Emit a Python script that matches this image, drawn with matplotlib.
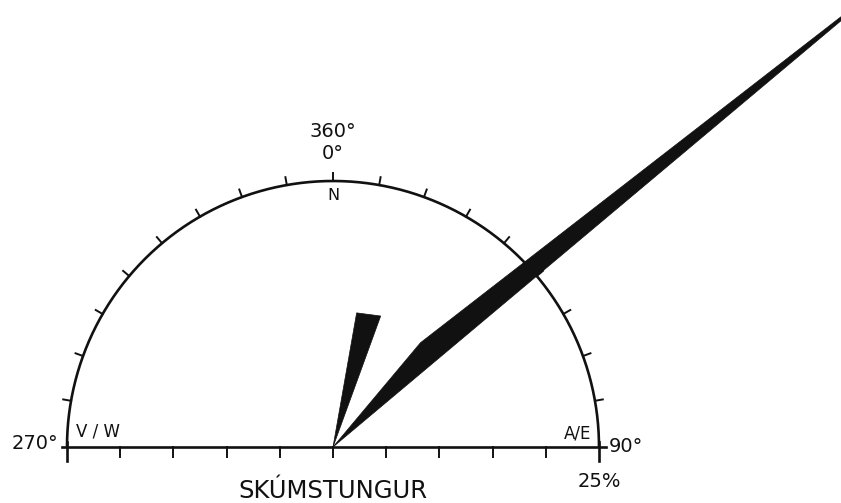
import numpy as np
import matplotlib
matplotlib.use("Agg")
import matplotlib.pyplot as plt
from matplotlib.patches import Polygon

# scale of the rose (outer circle = 25 %)
r_max = 25
arc_ticks_deg = np.arange(280, 450, 10) % 360   # every 10 degrees on the arc
scale_ticks = [-25, -20, -15, -10, -5, 0, 5, 10, 15, 20, 25]

# petals: compass angle (deg, clockwise from N) and radius (%)
petal1_ang = [10, 20]
petal1_r = [12.8, 13.1]
petal2_ang = [40, 50]        # kink vertex, far tip
petal2_r = [12.8, 70]

title = "SKÚMSTUNGUR"


def xy(ang, r):
    a = np.deg2rad(ang)
    return r * np.sin(a), r * np.cos(a)


fig = plt.figure(figsize=(8.41, 5.03), dpi=100)
ax = fig.add_axes([0, 0, 1, 1])
px = 10.64  # pixels per percent
ax.set_xlim(-333 / px, (841 - 333) / px)
ax.set_ylim(-56 / px, (503 - 56) / px)
ax.set_aspect("equal")
ax.axis("off")

lw = 1.9
k = "#111111"

# outer half circle
t = np.linspace(-90, 90, 400)
ax.plot(*xy(t, r_max), color=k, lw=lw, solid_capstyle="butt")

# ticks on the arc, pointing outward
for a in arc_ticks_deg:
    x0, y0 = xy(a, r_max)
    x1, y1 = xy(a, r_max + 0.75)
    ax.plot([x0, x1], [y0, y1], color=k, lw=1.4)

# base line with scale ticks
ax.plot([-25.5, 25.7], [0, 0], color=k, lw=lw)
for s in scale_ticks:
    if abs(s) == 25:
        ax.plot([s, s], [0.5, -1.3], color=k, lw=lw)
    else:
        ax.plot([s, s], [0, -0.95], color=k, lw=1.4)

# petals
x, y = xy(np.array(petal1_ang), np.array(petal1_r))
ax.add_patch(Polygon([(0, 0), (x[0], y[0]), (x[1], y[1])], closed=True,
                     facecolor=k, edgecolor=k, lw=0.5))
x, y = xy(np.array(petal2_ang), np.array(petal2_r))
ax.add_patch(Polygon([(0, 0), (x[0], y[0]), (x[1], y[1])], closed=True,
                     facecolor=k, edgecolor=k, lw=0.5, clip_on=False))

# labels
fs = 14
ax.text(0, 27.1, "0°", ha="center", va="baseline", fontsize=fs, color=k)
ax.text(0, 29.1, "360°", ha="center", va="baseline", fontsize=fs, color=k)
ax.text(0, r_max - 0.7, "N", ha="center", va="top", fontsize=11.5, color=k)
ax.text(-25.8, 0.35, "270°", ha="right", va="center", fontsize=fs, color=k)
ax.text(25.9, 0.0, "90°", ha="left", va="center", fontsize=fs, color=k)
ax.text(-24.2, 0.6, "V / W", ha="left", va="bottom", fontsize=12, color=k)
ax.text(24.3, 0.45, "A/E", ha="right", va="bottom", fontsize=12, color=k)
ax.text(25, -3.2, "25%", ha="center", va="center", fontsize=fs, color=k)
ax.text(0, -4.1, title, ha="center", va="center", fontsize=17.5, color=k)

fig.savefig("out.png", dpi=100, facecolor="white")
